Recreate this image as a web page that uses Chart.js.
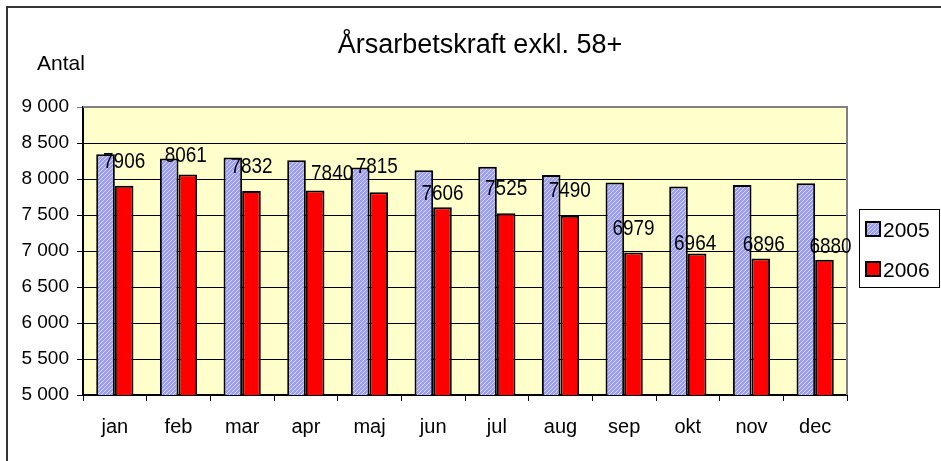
<!DOCTYPE html>
<html lang="sv">

<head>
    <meta charset="UTF-8">
    <title>Årsarbetskraft exkl. 58+</title>
    <script src="https://cdn.jsdelivr.net/npm/chart.js"></script>
    <style>
        body {
            margin: 0;
            background: #fff;
        }
    </style>
</head>

<body>
    <canvas id="chart" width="941" height="461"></canvas>

    <script>
        const months = ['jan', 'feb', 'mar', 'apr', 'maj', 'jun', 'jul', 'aug', 'sep', 'okt', 'nov', 'dec'];
        const values2005 = [8345, 8285, 8300, 8260, 8160, 8120, 8170, 8055, 7950, 7895, 7915, 7940];
        const values2006 = [7906, 8061, 7832, 7840, 7815, 7606, 7525, 7490, 6979, 6964, 6896, 6880];
        const seriesNames = ['2005', '2006'];

        // the value labels in the original were dragged by hand, so nudge each one
        const labelDx = [0, -2, 0, 17, -2, 0, 0, 0, 0, -2, 3, 6];
        const labelGap = [18, 13, 18, 11, 19, 7, 18, 19, 18, 4, 7, 7];

        const font = '"Liberation Sans", Arial, sans-serif';

        // light blue with fine white diagonal hatch, like the Excel fill
        const makeHatch = () => {
            const c = document.createElement('canvas');
            c.width = 4;
            c.height = 4;
            const g = c.getContext('2d');
            g.fillStyle = '#9c9ef4';
            g.fillRect(0, 0, 4, 4);
            g.strokeStyle = '#d6d7ff';
            g.lineWidth = 1;
            g.beginPath();
            g.moveTo(0, 4); g.lineTo(4, 0);
            g.moveTo(-1, 1); g.lineTo(1, -1);
            g.moveTo(3, 5); g.lineTo(5, 3);
            g.stroke();
            return g.createPattern(c, 'repeat');
        };
        const hatch = makeHatch();
        const fills = [hatch, '#ff0000'];

        const decor = {
            id: 'decor',
            beforeDraw(chart) {
                const { ctx, chartArea: a } = chart;
                ctx.save();
                ctx.fillStyle = '#fff';
                ctx.fillRect(0, 0, chart.width, chart.height);
                ctx.fillStyle = '#ffffcc';
                ctx.fillRect(a.left, a.top, a.right - a.left, a.bottom - a.top);
                ctx.restore();
            },
            afterDraw(chart) {
                const { ctx, chartArea: a } = chart;
                ctx.save();

                // plot area border, top and right
                ctx.strokeStyle = '#808080';
                ctx.lineWidth = 2;
                ctx.beginPath();
                ctx.moveTo(a.left, a.top);
                ctx.lineTo(a.right, a.top);
                ctx.lineTo(a.right, a.bottom);
                ctx.stroke();

                // outer chart frame
                ctx.strokeStyle = '#333';
                ctx.lineWidth = 2;
                ctx.beginPath();
                ctx.moveTo(7, chart.height);
                ctx.lineTo(7, 7);
                ctx.lineTo(chart.width, 7);
                ctx.stroke();

                // title and axis caption
                ctx.fillStyle = '#000';
                ctx.textBaseline = 'alphabetic';
                ctx.font = '27px ' + font;
                ctx.textAlign = 'center';
                ctx.fillText('Årsarbetskraft exkl. 58+', 480, 53);
                ctx.font = '21px ' + font;
                ctx.textAlign = 'left';
                ctx.fillText('Antal', 37, 70);

                // value labels on the 2006 bars, a bit condensed as in the original
                ctx.font = '22px ' + font;
                ctx.textAlign = 'center';
                chart.getDatasetMeta(1).data.forEach((bar, i) => {
                    ctx.save();
                    ctx.translate(bar.x + labelDx[i], bar.y - labelGap[i]);
                    ctx.scale(0.86, 1);
                    ctx.fillText(String(values2006[i]), 0, 0);
                    ctx.restore();
                });

                // legend box
                const lx = a.right + 12;
                const ly = (a.top + a.bottom) / 2 - 42;
                ctx.fillStyle = '#fff';
                ctx.fillRect(lx, ly, 80, 78);
                ctx.strokeStyle = '#000';
                ctx.lineWidth = 1;
                ctx.strokeRect(lx + 0.5, ly + 0.5, 80, 78);
                ctx.font = '21px ' + font;
                ctx.textAlign = 'left';
                seriesNames.forEach((name, i) => {
                    const sy = ly + 13 + i * 40;
                    ctx.fillStyle = fills[i];
                    ctx.fillRect(lx + 7, sy, 14, 14);
                    ctx.lineWidth = 2;
                    ctx.strokeStyle = '#000';
                    ctx.strokeRect(lx + 7, sy, 14, 14);
                    ctx.fillStyle = '#000';
                    ctx.fillText(name, lx + 24, sy + 15);
                });

                ctx.restore();
            }
        };

        const ctx = document.getElementById('chart').getContext('2d');
        new Chart(ctx, {
            type: 'bar',
            data: {
                labels: months,
                datasets: [
                    {
                        label: seriesNames[0],
                        data: values2005,
                        backgroundColor: hatch,
                        borderColor: '#000',
                        borderWidth: 2
                    },
                    {
                        label: seriesNames[1],
                        data: values2006,
                        backgroundColor: '#ff0000',
                        borderColor: '#000',
                        borderWidth: 2
                    }
                ]
            },
            options: {
                responsive: false,
                animation: false,
                devicePixelRatio: 1,
                layout: {
                    padding: { top: 107, right: 94, bottom: 0, left: 0 }
                },
                datasets: {
                    bar: {
                        categoryPercentage: 0.585,
                        barPercentage: 1.0
                    }
                },
                scales: {
                    x: {
                        afterFit: (scale) => { scale.height = 66; },
                        grid: {
                            drawOnChartArea: false,
                            drawTicks: true,
                            tickLength: 6,
                            color: '#000'
                        },
                        border: { color: '#000', width: 2 },
                        ticks: {
                            color: '#000',
                            padding: 14,
                            font: { family: font, size: 20 }
                        }
                    },
                    y: {
                        min: 5000,
                        max: 9000,
                        afterFit: (scale) => { scale.width = 83; },
                        grid: {
                            color: (c) => (c.tick && c.tick.value === 9000 ? '#808080' : '#000'),
                            tickLength: 6,
                            lineWidth: 1
                        },
                        border: { color: '#000', width: 2 },
                        ticks: {
                            stepSize: 500,
                            color: '#000',
                            padding: 8,
                            font: { family: font, size: 19 },
                            callback: (v) => String(v).replace(/\B(?=(\d{3})+(?!\d))/g, ' ')
                        }
                    }
                },
                plugins: {
                    legend: { display: false },
                    title: { display: false },
                    tooltip: { enabled: false }
                }
            },
            plugins: [decor]
        });
    </script>

</body>

</html>
